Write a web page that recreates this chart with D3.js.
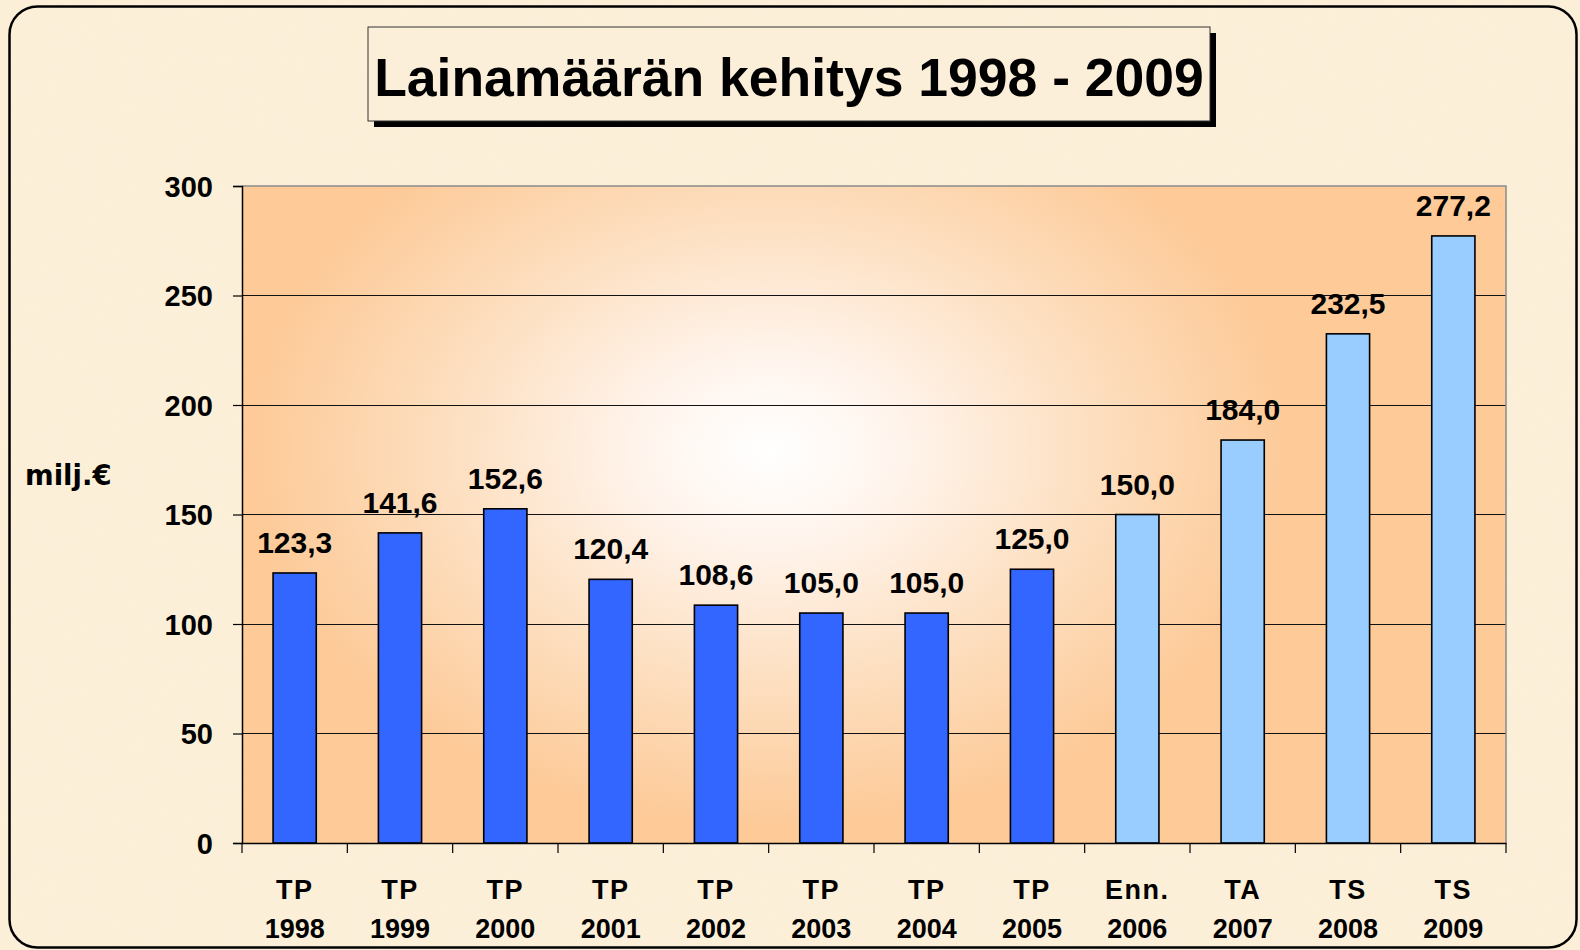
<!DOCTYPE html>
<html><head><meta charset="utf-8">
<script src="https://cdn.jsdelivr.net/npm/d3@7"></script>
<style>html,body{margin:0;padding:0;background:#fcefd9;} svg{display:block}</style>
</head><body>
<svg id="c" width="1580" height="950"></svg>
<script>
// ---- data ----
const catTop = ["TP","TP","TP","TP","TP","TP","TP","TP","Enn.","TA","TS","TS"];
const catYear = ["1998","1999","2000","2001","2002","2003","2004","2005","2006","2007","2008","2009"];
const values = [123.3, 141.6, 152.6, 120.4, 108.6, 105.0, 105.0, 125.0, 150.0, 184.0, 232.5, 277.2];
const kind = ["actual","actual","actual","actual","actual","actual","actual","actual","plan","plan","plan","plan"];
const yTicks = [0, 50, 100, 150, 200, 250, 300];
const titleText = "Lainamäärän kehitys 1998 - 2009";
const yLabel = "milj.€";

// ---- drawing ----
const svg = d3.select("#c");
const W = 1580, H = 950;
const L = 242, R = 1506, T = 186, B = 843;
const fontMain = "'Liberation Sans', Arial, sans-serif";

const defs = svg.append("defs");
const filt = defs.append("filter").attr("id","tex").attr("x",0).attr("y",0).attr("width","100%").attr("height","100%");
filt.append("feTurbulence").attr("type","fractalNoise").attr("baseFrequency","0.04").attr("numOctaves",2).attr("seed",3).attr("result","n");
filt.append("feColorMatrix").attr("in","n").attr("type","matrix")
  .attr("values","0 0 0 0 0.97  0 0 0 0 0.88  0 0 0 0 0.66  0 0 0 0.6 -0.1");
const rg = defs.append("radialGradient").attr("id","pg")
  .attr("gradientUnits","userSpaceOnUse").attr("cx",770).attr("cy",450).attr("r",520)
  .attr("gradientTransform","translate(770,450) scale(1,0.72) translate(-770,-450)");
rg.append("stop").attr("offset","0").attr("stop-color","#ffffff");
rg.append("stop").attr("offset","0.25").attr("stop-color","#fff4ec");
rg.append("stop").attr("offset","0.6").attr("stop-color","#fde0c2");
rg.append("stop").attr("offset","1").attr("stop-color","#fdca98");

// background + texture
svg.append("rect").attr("width",W).attr("height",H).attr("fill","#fcefd9");
svg.append("rect").attr("width",W).attr("height",H).attr("filter","url(#tex)").attr("opacity",0.5);

// outer rounded frame
svg.append("rect").attr("x",9.5).attr("y",6.5).attr("width",1567).attr("height",941)
  .attr("rx",28).attr("ry",28).attr("fill","none").attr("stroke","#000").attr("stroke-width",2.5);

// title box
const tb = {x:368, y:27, w:842, h:94};
svg.append("rect").attr("x",tb.x+6).attr("y",tb.y+6).attr("width",tb.w).attr("height",tb.h).attr("fill","#000");
svg.append("rect").attr("x",tb.x).attr("y",tb.y).attr("width",tb.w).attr("height",tb.h)
  .attr("fill","#fcefd9").attr("stroke","#333").attr("stroke-width",1);
svg.append("text").attr("x",tb.x+tb.w/2).attr("y",96).attr("text-anchor","middle")
  .attr("font-family",fontMain).attr("font-weight","bold").attr("font-size",53.5)
  .attr("fill","#000").text(titleText);

// scales
const x = d3.scaleBand().domain(catYear).range([L, R]).paddingInner(0.59).paddingOuter(0.295);
const xb = d3.scaleBand().domain(catYear).range([L, R]);
const y = d3.scaleLinear().domain([0, 300]).range([B, T]);

// plot area
svg.append("rect").attr("x",L).attr("y",T).attr("width",R-L).attr("height",B-T).attr("fill","url(#pg)");

// gridlines
svg.append("g").selectAll("line").data(yTicks.filter(t => t>0 && t<300)).join("line")
  .attr("x1",L).attr("x2",R).attr("y1",d=>y(d)).attr("y2",d=>y(d))
  .attr("stroke","#111").attr("stroke-width",1).attr("shape-rendering","crispEdges");
// plot border top/right
svg.append("path").attr("d",`M${L},${y(300)}H${R}V${B}`).attr("fill","none")
  .attr("stroke","#8a8a8a").attr("stroke-width",1.5);

// bars
svg.append("g").selectAll("rect").data(values).join("rect")
  .attr("x",(d,i)=>x(catYear[i])).attr("width",x.bandwidth())
  .attr("y",d=>y(d)).attr("height",d=>B-y(d))
  .attr("fill",(d,i)=>kind[i]==="actual" ? "#3366ff" : "#99ccff")
  .attr("stroke","#000").attr("stroke-width",1.6);

// value labels
svg.append("g").selectAll("text").data(values).join("text")
  .attr("x",(d,i)=>x(catYear[i])+x.bandwidth()/2).attr("y",d=>y(d)-20)
  .attr("text-anchor","middle").attr("font-family",fontMain).attr("font-weight","bold")
  .attr("font-size",30).attr("fill","#000")
  .text(d => d3.format(".1f")(d).replace(".", ","));

// y axis
const yAxis = d3.axisLeft(y).tickValues(yTicks).tickSize(9).tickPadding(20).tickFormat(d3.format("d"));
const gy = svg.append("g").attr("transform",`translate(${L},0)`).call(yAxis);
gy.select(".domain").attr("stroke","#000").attr("stroke-width",1.5);
gy.selectAll(".tick line").attr("stroke","#000").attr("stroke-width",1.2);
gy.selectAll(".tick text").attr("font-family",fontMain).attr("font-weight","bold")
  .attr("font-size",29).attr("fill","#000").attr("dy","0.36em");

// x axis
const xAxis = d3.axisBottom(xb).tickSize(0).tickFormat("");
const gx = svg.append("g").attr("transform",`translate(0,${B})`).call(xAxis);
gx.select(".domain").attr("stroke","#000").attr("stroke-width",1.5);
gx.selectAll(".tick").remove();
const bounds = catYear.map(c => xb(c)).concat([R]);
gx.selectAll("line.bt").data(bounds).join("line").attr("class","bt")
  .attr("x1",d=>d).attr("x2",d=>d).attr("y1",0).attr("y2",10)
  .attr("stroke","#000").attr("stroke-width",1.2);

const cl = svg.append("g");
cl.selectAll("text.l1").data(catTop).join("text").attr("class","l1")
  .attr("x",(d,i)=>xb(catYear[i])+xb.bandwidth()/2).attr("y",899)
  .attr("text-anchor","middle").attr("font-family",fontMain).attr("font-weight","bold")
  .attr("font-size",27).attr("letter-spacing",1.5).text(d=>d);
cl.selectAll("text.l2").data(catYear).join("text").attr("class","l2")
  .attr("x",(d,i)=>xb(d)+xb.bandwidth()/2).attr("y",938)
  .attr("text-anchor","middle").attr("font-family",fontMain).attr("font-weight","bold")
  .attr("font-size",27).text(d=>d);

// y label
svg.append("text").attr("x",25).attr("y",485)
  .attr("font-family","'DejaVu Sans', Verdana, sans-serif").attr("font-weight","bold")
  .attr("font-size",27.5).attr("fill","#000").text(yLabel);
</script>
</body></html>
